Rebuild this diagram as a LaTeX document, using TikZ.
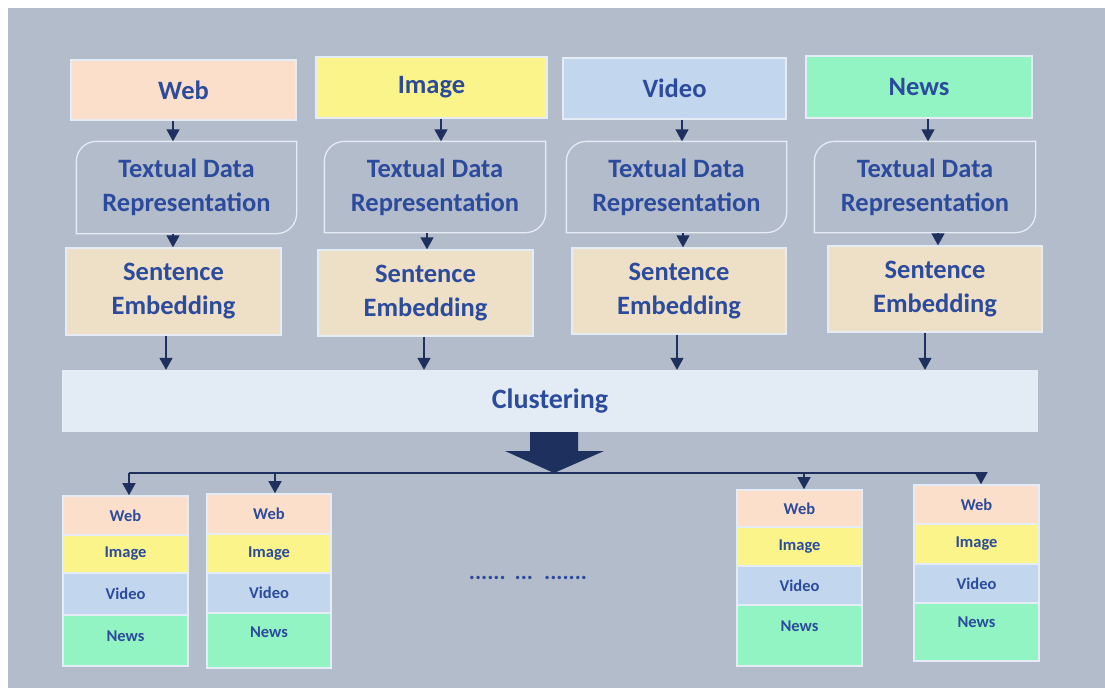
\documentclass[tikz,border=0pt]{standalone}
\usepackage{fontspec}
\setmainfont{Carlito}
\usetikzlibrary{arrows.meta,calc}

\definecolor{panel}{HTML}{B3BCCB}
\definecolor{edge}{HTML}{E6ECF5}
\definecolor{ink}{HTML}{2C4B9C}
\definecolor{navy}{HTML}{1E305E}
\definecolor{cweb}{HTML}{FCDFCB}
\definecolor{cimg}{HTML}{FBF48A}
\definecolor{cvid}{HTML}{C2D7EE}
\definecolor{cnews}{HTML}{91F4C2}
\definecolor{csent}{HTML}{EEE0C6}
\definecolor{cclus}{HTML}{E3EBF5}

\begin{document}
\begin{tikzpicture}[x=1pt,y=-1pt,
  box/.style={rectangle, draw=edge, line width=1.3pt, inner sep=0pt,
    text=ink, align=center, font=\fontsize{26.5}{34}\selectfont\bfseries},
  tdr/.style={box, draw=none},
  tdrline/.style={draw=edge, line width=1.3pt},
  cell/.style={rectangle, draw=edge, line width=1.6pt, inner sep=0pt,
    minimum width=125pt, text=ink, font=\fontsize{16.5}{19}\selectfont\bfseries},
  lab/.style={inner sep=0pt, text=ink, font=\fontsize{16.5}{19}\selectfont\bfseries},
  arr/.style={draw=navy, line width=1.3pt, -{Triangle[width=13pt,length=12pt]}},
  bus/.style={draw=navy, line width=2pt}]

\useasboundingbox (0,0) rectangle (1105,688);
\fill[white] (0,0) rectangle (1105,688);
\fill[panel] (8,8) rectangle (1105,688);

% sources
\node[box, fill=cweb,  minimum width=225pt, minimum height=60pt] (w) at (183.5,90)  {Web};
\node[box, fill=cimg,  minimum width=231pt, minimum height=61pt] (i) at (431.5,87.5) {Image};
\node[box, fill=cvid,  minimum width=223pt, minimum height=61pt] (v) at (674.5,88.5) {Video};
\node[box, fill=cnews, minimum width=226pt, minimum height=62pt] (n) at (919,87)    {News};

% textual data representation
\node[tdr, minimum width=219pt, minimum height=91pt] (t1) at (186.5,187.5) {Textual Data\\Representation};
\node[tdr, minimum width=220pt, minimum height=90pt] (t2) at (435,187)    {Textual Data\\Representation};
\node[tdr, minimum width=219pt, minimum height=90pt] (t3) at (676.5,187)  {Textual Data\\Representation};
\node[tdr, minimum width=220pt, minimum height=90pt] (t4) at (925,187)    {Textual Data\\Representation};
\foreach \t in {t1,t2,t3,t4}{
  \draw[tdrline] (\t.south west) -- ($(\t.north west)+(0,20)$)
    .. controls ($(\t.north west)+(0,9)$) and ($(\t.north west)+(9,0)$) .. ($(\t.north west)+(20,0)$)
    -- (\t.north east) -- ($(\t.south east)+(0,-20)$)
    .. controls ($(\t.south east)+(0,-9)$) and ($(\t.south east)+(-9,0)$) .. ($(\t.south east)+(-20,0)$)
    -- cycle;
}

% sentence embedding
\node[box, fill=csent, minimum width=215pt, minimum height=87pt] (s1) at (173.5,291.5) {Sentence\\Embedding};
\node[box, fill=csent, minimum width=215pt, minimum height=86pt] (s2) at (425.5,293)   {Sentence\\Embedding};
\node[box, fill=csent, minimum width=214pt, minimum height=86pt] (s3) at (679,291)     {Sentence\\Embedding};
\node[box, fill=csent, minimum width=214pt, minimum height=86pt] (s4) at (935,289)     {Sentence\\Embedding};

% clustering
\node[box, fill=cclus, minimum width=974pt, minimum height=61pt,
  font=\fontsize{28}{32}\selectfont\bfseries] (cl) at (550,401) {Clustering};

% arrows: source -> representation
\draw[arr] ([xshift=-10.5pt]w.south) -- ([xshift=-10.5pt]w.south |- t1.north);
\draw[arr] ([xshift=9.5pt]i.south)   -- ([xshift=9.5pt]i.south |- t2.north);
\draw[arr] ([xshift=7.5pt]v.south)   -- ([xshift=7.5pt]v.south |- t3.north);
\draw[arr] ([xshift=9pt]n.south)     -- ([xshift=9pt]n.south |- t4.north);

% arrows: representation -> embedding
\draw[arr] ([xshift=-13.5pt]t1.south) -- ([xshift=-13.5pt]t1.south |- s1.north);
\draw[arr] ([xshift=-8pt]t2.south)    -- ([xshift=-8pt]t2.south |- s2.north);
\draw[arr] ([xshift=6.5pt]t3.south)   -- ([xshift=6.5pt]t3.south |- s3.north);
\draw[arr] ([xshift=13pt]t4.south)    -- ([xshift=13pt]t4.south |- s4.north);

% arrows: embedding -> clustering
\draw[arr] ([xshift=-7.5pt]s1.south) -- ([xshift=-7.5pt]s1.south |- cl.north);
\draw[arr] ([xshift=-1.5pt]s2.south) -- ([xshift=-1.5pt]s2.south |- cl.north);
\draw[arr] ([xshift=-2pt]s3.south)   -- ([xshift=-2pt]s3.south |- cl.north);
\draw[arr] ([xshift=-10pt]s4.south)  -- ([xshift=-10pt]s4.south |- cl.north);

% block arrow under clustering
\fill[navy] (530,432) -- (578,432) -- (578,451) -- (604,451) -- (554,473)
  -- (505,451) -- (530,451) -- cycle;

% output clusters
% cluster 1
\node[cell, fill=cweb,  minimum height=39pt] (a1) at (125.5,515.5) {Web};
\node[cell, fill=cimg,  minimum height=38pt] (a2) at (125.5,554)   {Image};
\node[cell, fill=cvid,  minimum height=42pt] (a3) at (125.5,594)   {Video};
\node[cell, fill=cnews, minimum height=51pt] (a4) at (125.5,640.5) {};
\node[lab] (a4l) at (125.5,636) {News};
% cluster 2
\node[cell, fill=cweb,  minimum height=40pt, minimum width=124pt] (b1) at (269,514)   {Web};
\node[cell, fill=cimg,  minimum height=39pt, minimum width=124pt] (b2) at (269,553.5) {Image};
\node[cell, fill=cvid,  minimum height=40pt, minimum width=124pt] (b3) at (269,593)   {Video};
\node[cell, fill=cnews, minimum height=55pt, minimum width=124pt] (b4) at (269,640.5) {};
\node[lab] (b4l) at (269,632) {News};
% cluster 3
\node[cell, fill=cweb,  minimum height=37pt] (c1) at (799.5,508.5) {Web};
\node[cell, fill=cimg,  minimum height=39pt] (c2) at (799.5,546.5) {Image};
\node[cell, fill=cvid,  minimum height=39pt] (c3) at (799.5,585.5) {Video};
\node[cell, fill=cnews, minimum height=61pt] (c4) at (799.5,635.5) {};
\node[lab] (c4l) at (799.5,626) {News};
% cluster 4
\node[cell, fill=cweb,  minimum height=39pt] (d1) at (976.5,504.5) {Web};
\node[cell, fill=cimg,  minimum height=40pt] (d2) at (976.5,544)   {Image};
\node[cell, fill=cvid,  minimum height=39pt] (d3) at (976.5,583.5) {Video};
\node[cell, fill=cnews, minimum height=58pt] (d4) at (976.5,632)   {};
\node[lab] (d4l) at (976.5,622) {News};

% distribution bus
\coordinate (p1) at (129,473);
\coordinate (p2) at (275,473);
\coordinate (p3) at (804,473);
\coordinate (p4) at (981,473);
\draw[bus] (p1) -- (p4);
\draw[arr] (p1) -- (p1 |- a1.north);
\draw[arr] (p2) -- (p2 |- b1.north);
\draw[arr] (p3) -- (p3 |- c1.north);
\draw[arr] (p4) -- (p4 |- d1.north);

% ellipsis between clusters
\node[inner sep=0pt, text=ink, font=\fontsize{23}{26}\selectfont\bfseries] (gap) at (528,578)
  {......\hspace{9pt}...\hspace{11pt}.......};

\end{tikzpicture}
\end{document}
